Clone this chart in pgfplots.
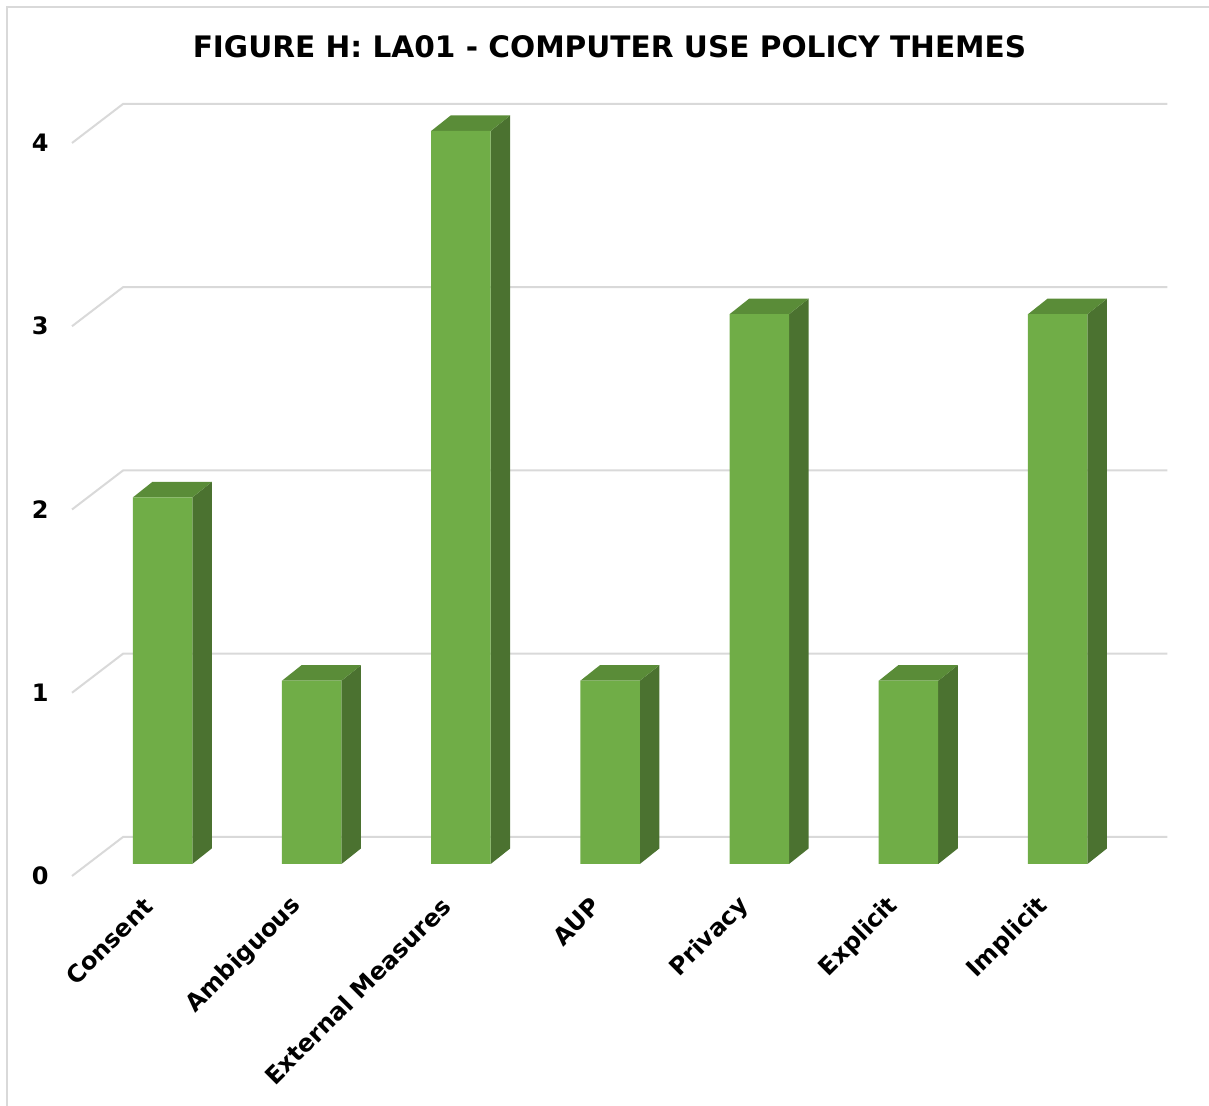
\documentclass[border=0pt]{standalone}
\usepackage{fontspec}
\setmainfont{DejaVu Sans}
\usepackage{pgfplots}
\usepackage{pgfplotstable}
\pgfplotsset{compat=1.18}

\definecolor{barfront}{HTML}{70AD47}
\definecolor{bartop}{HTML}{5A8C38}
\definecolor{barside}{HTML}{4B7230}
\definecolor{gridgray}{HTML}{D9D9D9}
\definecolor{framegray}{HTML}{D9D9D9}

% theme counts, one row per category
\pgfplotstableread{
idx value
0 2
1 1
2 4
3 1
4 3
5 1
6 3
}\themes

% half bar width and depth offsets of the 3-D bars (axis units)
\def\hw{0.1994}
\def\dpx{0.1307}
\def\dpy{0.0846}

\begin{document}
\begin{tikzpicture}
\path[use as bounding box] (0,0) rectangle (604.5pt,553pt);
% chart frame
\draw[framegray, line width=1pt] (3.5pt,-2pt) -- (3.5pt,549.5pt) -- (606pt,549.5pt);

\begin{axis}[
  at={(43.95pt,121pt)}, anchor=south west,
  scale only axis, width=522.2pt, height=366.5pt,
  xmin=-0.5, xmax=6.5, ymin=0, ymax=4,
  clip=false,
  axis line style={draw=none},
  major tick length=0pt,
  ytick={0,1,2,3,4},
  /pgf/number format/assume math mode=true,
  xtick={0,...,6},
  xticklabels={Consent,Ambiguous,External Measures,AUP,Privacy,Explicit,Implicit},
  yticklabel style={font=\fontsize{12}{14}\selectfont\bfseries, inner sep=0pt, anchor=east, xshift=-19.5pt, yshift=-6pt},
  xticklabel style={font=\fontsize{12}{14}\selectfont\bfseries, inner sep=0pt, xshift=-7pt, yshift=-19pt, rotate=45, anchor=east},
]
% back wall gridlines with their floor diagonals
\pgfplotsinvokeforeach{0,...,4}{
  \draw[gridgray, line width=1pt]
    ([xshift=-7.95pt,yshift=-6pt]axis cs:-0.5,#1) --
    ([xshift=17.55pt,yshift=13.5pt]axis cs:-0.5,#1) --
    ([xshift=17.55pt,yshift=13.5pt]axis cs:6.5,#1);
}
% side and top faces of every bar
\pgfplotsinvokeforeach{0,...,6}{
  \pgfplotstablegetelem{#1}{value}\of\themes
  \pgfmathsetmacro\vt{\pgfplotsretval}
  \pgfmathsetmacro\vtd{\vt+\dpy}
  \pgfmathsetmacro\xr{#1+\hw}
  \pgfmathsetmacro\xl{#1-\hw}
  \pgfmathsetmacro\xrd{\xr+\dpx}
  \pgfmathsetmacro\xld{\xl+\dpx}
  \edef\faces{%
    \noexpand\addplot[fill=barside, draw=none] coordinates {(\xr,0) (\xrd,\dpy) (\xrd,\vtd) (\xr,\vt)};
    \noexpand\addplot[fill=bartop, draw=none] coordinates {(\xl,\vt) (\xld,\vtd) (\xrd,\vtd) (\xr,\vt)};
  }
  \faces
}
% front faces
\addplot[ybar, bar width=0.3988, fill=barfront, draw=none] table[x=idx, y=value]{\themes};
\end{axis}

\node[font=\fontsize{14.8}{17}\selectfont\bfseries] at (304.75pt,529.5pt) {FIGURE H: LA01 - COMPUTER USE POLICY THEMES};
\end{tikzpicture}
\end{document}
